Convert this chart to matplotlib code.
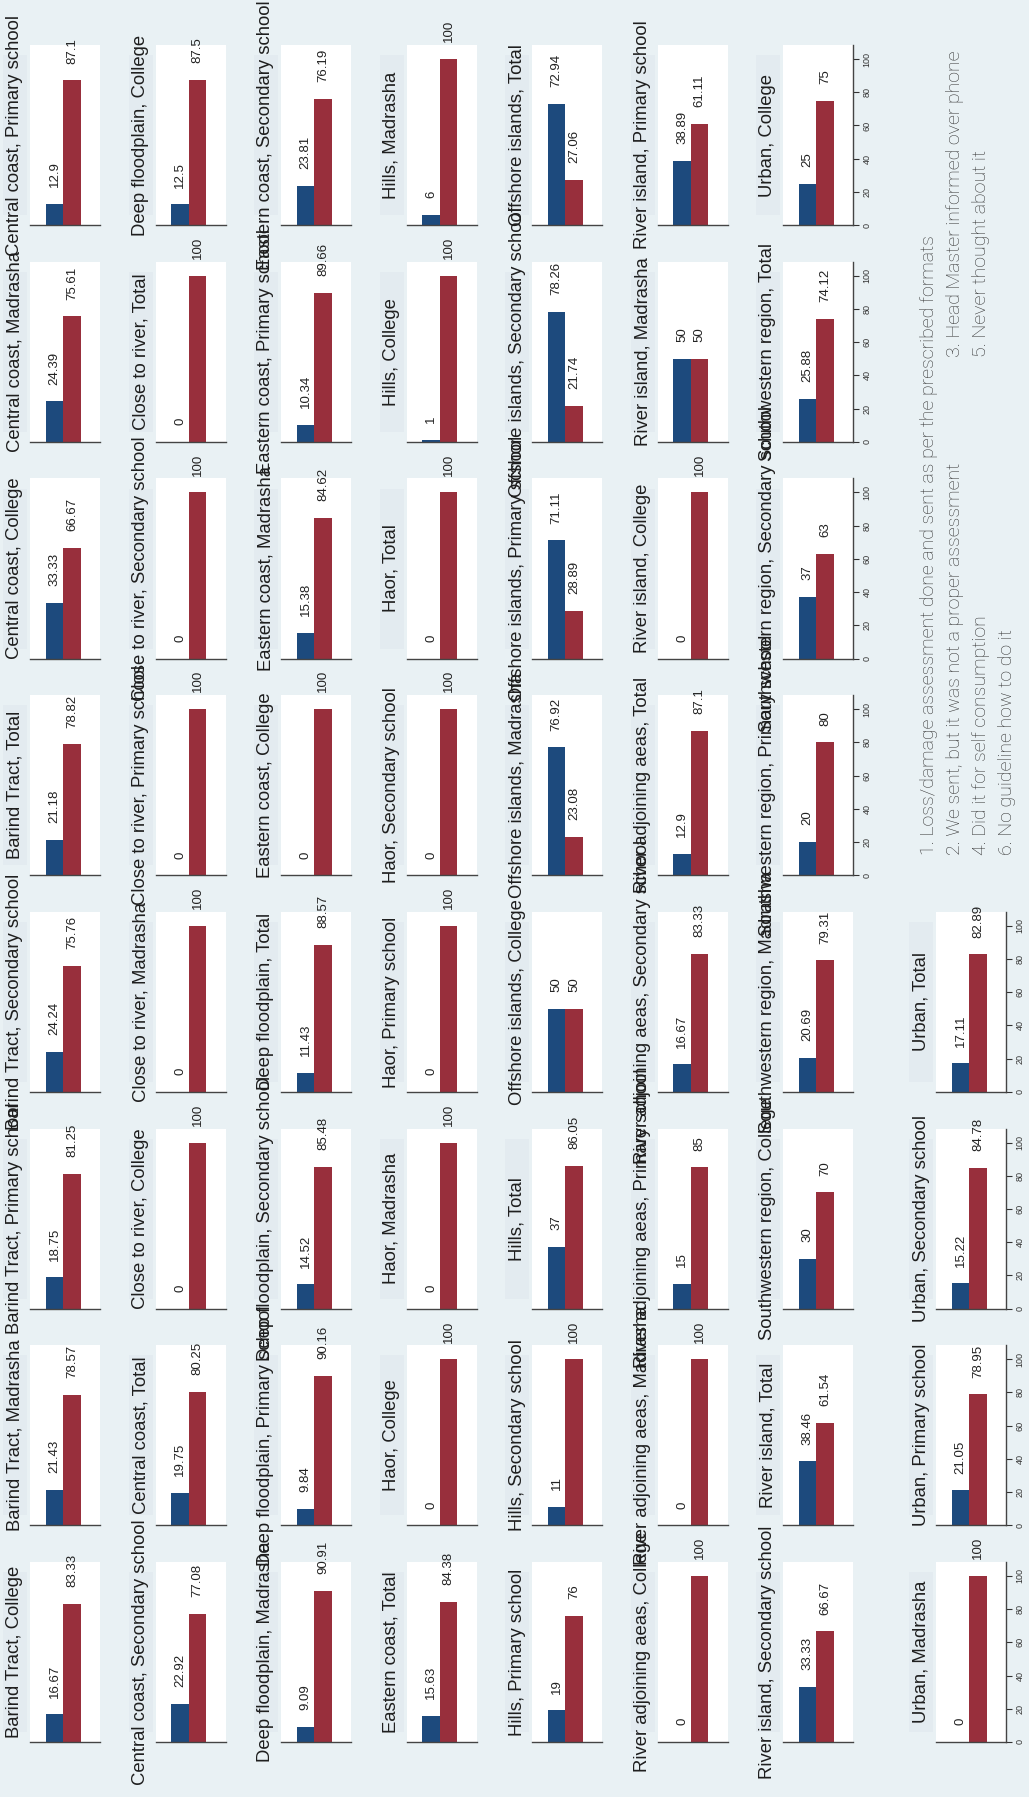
import matplotlib
matplotlib.use("Agg")
from matplotlib import pyplot as plt
from matplotlib.patches import Rectangle

plt.rcParams['font.family'] = ['Liberation Sans', 'DejaVu Sans']

# regions and school levels, panels run region by region
regions = ['Barind Tract', 'Central coast', 'Close to river', 'Deep floodplain',
           'Eastern coast', 'Haor', 'Hills', 'Offshore islands',
           'River adjoining aeas', 'River island', 'Southwestern region', 'Urban']
levels = ['College', 'Madrasha', 'Primary school', 'Secondary school', 'Total']

# share of schools per answer (blue = answer 1, red = answer 5)
blue = [16.67, 21.43, 18.75, 24.24, 21.18,
        33.33, 24.39, 12.9, 22.92, 19.75,
        0, 0, 0, 0, 0,
        12.5, 9.09, 9.84, 14.52, 11.43,
        0, 15.38, 10.34, 23.81, 15.63,
        0, 0, 0, 0, 0,
        1, 6, 19, 11, 37,
        50, 76.92, 71.11, 78.26, 72.94,
        0, 0, 15, 16.67, 12.9,
        0, 50, 38.89, 33.33, 38.46,
        30, 20.69, 20, 37, 25.88,
        25, 0, 21.05, 15.22, 17.11]
red = [83.33, 78.57, 81.25, 75.76, 78.82,
       66.67, 75.61, 87.1, 77.08, 80.25,
       100, 100, 100, 100, 100,
       87.5, 90.91, 90.16, 85.48, 88.57,
       100, 84.62, 89.66, 76.19, 84.38,
       100, 100, 100, 100, 100,
       100, 100, 76, 100, 86.05,
       50, 23.08, 28.89, 21.74, 27.06,
       100, 100, 85, 83.33, 87.1,
       100, 50, 61.11, 66.67, 61.54,
       70, 79.31, 80, 63, 74.12,
       75, 100, 78.95, 84.78, 82.89]

legend_items = ['1. Loss/damage assessment done and sent as per the prescribed formats',
                '2. We sent, but it was not a proper assessment',
                '3. Head Master informed over phone',
                '4. Did it for self consumption',
                '5. Never thought about it',
                '6. No guideline how to do it']

W, H = 1029, 1797
BG = '#e9f1f4'
BLUE = '#1d4a7d'
RED = '#982f3c'

fig = plt.figure(figsize=(W / 100, H / 100), dpi=100, facecolor=BG)

titles = [f'{r}, {l}' for r in regions for l in levels]
n = len(titles)
per_row = 8
col_left = [30 + 125.5 * k for k in range(7)] + [936]
pw, ph = 70, 180

for i, title in enumerate(titles):
    r, c = divmod(i, per_row)
    left = col_left[r]
    base = 1742 - 216.7 * c

    # faint band behind the panel title
    fig.add_artist(Rectangle(((left - 27) / W, 1 - (base - 10) / H), 24 / W, (ph - 20) / H,
                             transform=fig.transFigure, facecolor='#e3ebf0',
                             edgecolor='none', zorder=0))

    ax = fig.add_axes([left / W, 1 - base / H, pw / W, ph / H])
    ax.set_facecolor('white')
    ax.bar([0, 1], [blue[i], red[i]], width=1.0, color=[BLUE, RED], zorder=2)
    for x, v in zip([0, 1], [blue[i], red[i]]):
        ax.annotate(f'{v:g}', (x, v), xytext=(0, 12), textcoords='offset points',
                    rotation=90, ha='center', va='bottom', fontsize=9.5, color='#222222')
    ax.set_xlim(-1.41, 2.59)
    ax.set_ylim(0, 108.4)
    ax.set_xticks([])
    for s in ['top', 'left']:
        ax.spines[s].set_visible(False)
    ax.spines['bottom'].set_color('#444444')
    ax.spines['bottom'].set_linewidth(1.0)

    if i + per_row >= n:
        # value axis only under the last panel of each column
        ax.yaxis.tick_right()
        ax.spines['right'].set_color('#444444')
        ax.spines['right'].set_linewidth(1.0)
        ax.set_yticks([0, 20, 40, 60, 80, 100])
        ax.tick_params(axis='y', labelrotation=90, labelsize=6.5, length=4,
                       width=0.8, pad=3, colors='#333333')
        for lab in ax.get_yticklabels():
            lab.set_va('center')
    else:
        ax.spines['right'].set_visible(False)
        ax.set_yticks([])

    fig.text((left - 15) / W, 1 - (base - ph / 2) / H, title, rotation=90,
             ha='center', va='center', fontsize=13.3, color='#1e1e1e')

# legend text, two columns
leg_pos = [(929, 855), (955, 855), (955, 357), (981, 855), (981, 357), (1007, 855)]
for (x, y), s in zip(leg_pos, legend_items):
    fig.text(x / W, 1 - y / H, s, rotation=90, rotation_mode='anchor',
             ha='left', va='center', family=['Roboto', 'DejaVu Sans'],
             fontweight='light', fontsize=14, color='#333333')

plt.savefig('out.png', dpi=100, facecolor=BG)
